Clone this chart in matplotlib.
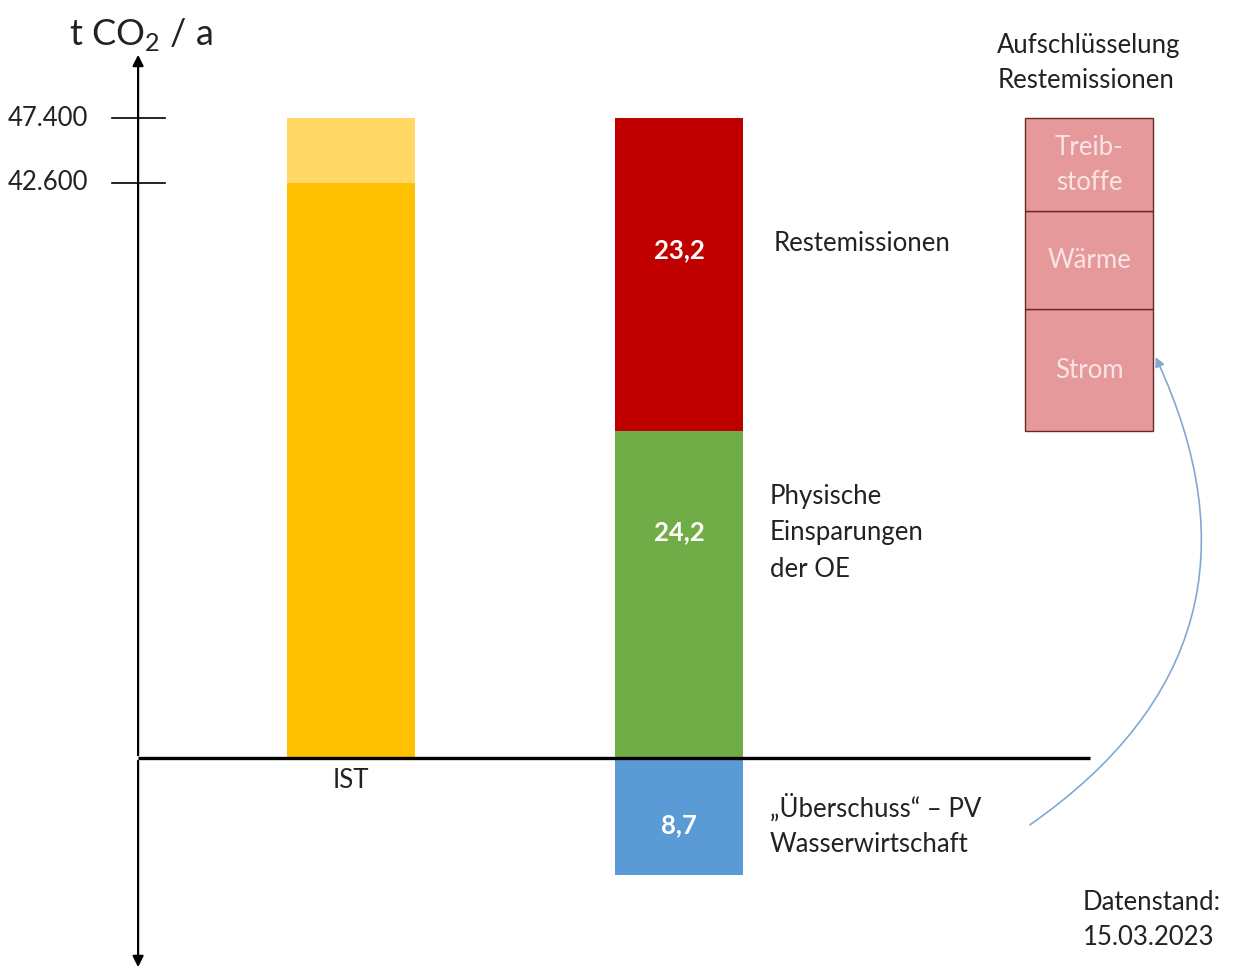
import matplotlib.pyplot as plt

plt.rcParams['font.family'] = ['Lato', 'DejaVu Sans']
plt.rcParams['mathtext.fontset'] = 'custom'
plt.rcParams['mathtext.rm'] = 'Lato'

# Werte in 1000 t CO2 / a
ist_gesamt = 47.4
ist_basis = 42.6
ziel_labels = ['Physische\nEinsparungen\nder OE', 'Restemissionen']
ziel_werte = [24.2, 23.2]
ueberschuss = 8.7
rest_teile = ['Strom', 'Wärme', 'Treib-\nstoffe']
rest_anteile = [0.39, 0.312, 0.298]
y_ticks = [47.4, 42.6]

def fmt(v):
    return f'{v:.1f}'.replace('.', ',')

def fmt_t(v):
    return f'{v * 1000:,.0f}'.replace(',', '.')

fs = 18.5
fig = plt.figure(figsize=(12.33, 9.72), dpi=100)
ax = fig.add_axes([0, 0, 1, 1])
ax.set_xlim(-1.07, 2.689)
ax.set_ylim(-15.85, 56.15)
ax.axis('off')

w = 0.39
# IST
ax.bar(0, ist_basis, w, color='#FFC000', linewidth=0)
ax.bar(0, ist_gesamt - ist_basis, w, bottom=ist_basis, color='#FFD866', linewidth=0)
ax.text(0, -1.7, 'IST', ha='center', va='center', fontsize=fs, color='#222222')

# Ziel: Einsparungen + Restemissionen, darunter PV-Ueberschuss
ax.bar(1, ziel_werte[0], w, color='#70AD47', linewidth=0)
ax.bar(1, ziel_werte[1], w, bottom=ziel_werte[0], color='#C00000', linewidth=0)
ax.bar(1, -ueberschuss, w, color='#5B9BD5', linewidth=0)

lab_kw = dict(ha='center', va='center', color='white', fontsize=fs, fontweight='bold')
ax.text(1, ziel_werte[0] * 0.69, fmt(ziel_werte[0]), **lab_kw)
ax.text(1, ziel_werte[0] + ziel_werte[1] * 0.58, fmt(ziel_werte[1]), **lab_kw)
ax.text(1, -ueberschuss * 0.57, fmt(ueberschuss), **lab_kw)

side_kw = dict(ha='left', va='center', fontsize=fs, color='#222222')
ax.text(1.288, ziel_werte[0] + ziel_werte[1] * 0.60, ziel_labels[1], **side_kw)
ax.text(1.276, ziel_werte[0] * 0.69, ziel_labels[0], linespacing=1.58, **side_kw)
ax.text(1.276, -ueberschuss * 0.57, '„Überschuss“ – PV\nWasserwirtschaft',
        linespacing=1.49, **side_kw)

# Aufschluesselung der Restemissionen
xb = 2.25
unten = ziel_werte[0]
for name, a in zip(rest_teile, rest_anteile):
    h = a * ziel_werte[1]
    ax.bar(xb, h, w, bottom=unten, color='#E6999A', edgecolor='#6B2A2A', linewidth=1.0)
    ax.text(xb, unten + h / 2, name, ha='center', va='center', fontsize=fs,
            color='#FBE4E4', linespacing=1.49)
    unten += h
ax.text(1.97, 51.5, 'Aufschlüsselung\nRestemissionen', ha='left', va='center',
        fontsize=fs, color='#222222', linespacing=1.49)

# Achsen
x_achse = -0.649
ax.annotate('', xy=(x_achse, 52.3), xytext=(x_achse, 0),
            arrowprops=dict(arrowstyle='-|>', color='black', lw=1.6, mutation_scale=16))
ax.annotate('', xy=(x_achse, -15.7), xytext=(x_achse, 0),
            arrowprops=dict(arrowstyle='-|>', color='black', lw=1.6, mutation_scale=16))
ax.plot([x_achse, 2.253], [0, 0], color='black', lw=2.4, solid_capstyle='butt')
for t in y_ticks:
    ax.plot([x_achse - 0.08, x_achse + 0.083], [t, t], color='black', lw=1.2)
    ax.text(-0.80, t, fmt_t(t), ha='right', va='center', fontsize=fs, color='#222222')
ax.text(-0.86, 53.6, r't CO$_\mathregular{2}$ / a', ha='left', va='center',
        fontsize=26, color='#222222')

# Pfeil PV-Ueberschuss -> Strom
ax.annotate('', xy=(2.453, 29.7), xytext=(2.07, -4.95),
            arrowprops=dict(arrowstyle='-|>', color='#82A8D2', lw=1.2, mutation_scale=14,
                            connectionstyle='arc3,rad=0.42', shrinkA=0, shrinkB=0))

ax.text(2.23, -12.0, 'Datenstand:\n15.03.2023', ha='left', va='center', fontsize=fs,
        color='#222222', linespacing=1.49)

fig.savefig('out.png', dpi=100, facecolor='white')
